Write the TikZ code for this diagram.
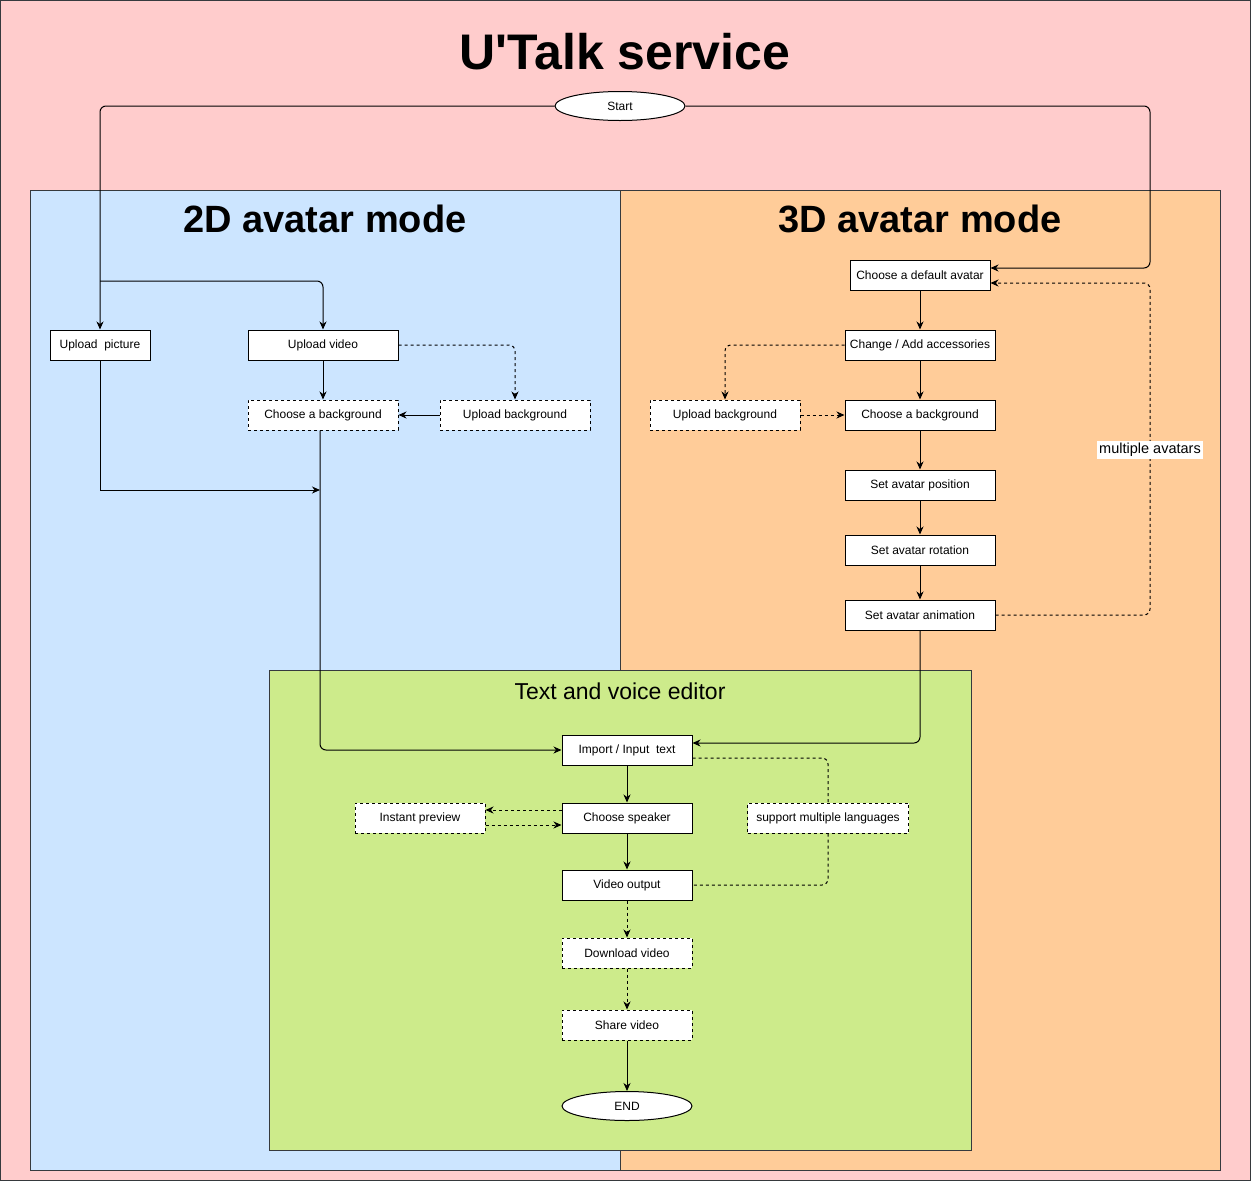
\documentclass[tikz,border=0pt]{standalone}
\usepackage{fontspec}
\setmainfont{Liberation Sans}
\usetikzlibrary{shapes.geometric,arrows.meta}
\definecolor{pinkbg}{HTML}{FFCCCC}
\definecolor{bluebg}{HTML}{CCE5FF}
\definecolor{orangebg}{HTML}{FFCC99}
\definecolor{greenbg}{HTML}{CDEB8B}
\definecolor{panelline}{HTML}{36393D}
\newcommand{\nodefont}{\fontsize{12}{14}\selectfont}
\tikzset{
  box/.style={draw=black, line width=1pt, fill=white, minimum width=150pt, minimum height=30pt, inner sep=0pt, font=\nodefont},
  dbox/.style={box, dash pattern=on 3pt off 3pt},
  oval/.style={ellipse, draw=black, line width=1pt, fill=white, minimum width=130pt, minimum height=29pt, inner sep=0pt, font=\nodefont},
  conn/.style={line width=1pt, ->, rounded corners=6pt},
  sconn/.style={line width=1pt, ->},
  dconn/.style={conn, dash pattern=on 3pt off 3pt},
  dline/.style={line width=1pt, rounded corners=6pt, dash pattern=on 3pt off 3pt},
  panel/.style={draw=panelline, line width=1pt},
  bigtitle/.style={font=\fontsize{50}{56}\selectfont\bfseries},
  modetitle/.style={font=\fontsize{38}{44}\selectfont\bfseries},
  >={Stealth[length=8pt,width=7pt,inset=2.5pt]}
}
\begin{document}
\begin{tikzpicture}[x=1pt,y=-1pt]
\useasboundingbox (0,0) rectangle (1251,1181);
% backgrounds
\fill[pinkbg, draw=panelline, line width=1pt] (0.5,0.5) rectangle (1250.5,1180.5);
\fill[bluebg] (30,190) rectangle (620,1170);
\fill[orangebg] (620,190) rectangle (1220,1170);
\draw[panel] (30,190) rectangle (620,1170);
\draw[panel] (620,190) rectangle (1220,1170);
\fill[greenbg] (269,670) rectangle (971,1150);
\draw[panel] (269,670) rectangle (971,1150);
% titles
\node[bigtitle] (title) at (625,52) {U\textquotesingle Talk service};
\node[modetitle] (t2d) at (325,219) {2D avatar mode};
\node[modetitle] (t3d) at (920,219) {3D avatar mode};
\node[font=\fontsize{23}{28}\selectfont] (tedit) at (620,691) {Text and voice editor};
% nodes
\node[oval] (start) at (620,106) {Start};
\node[box, minimum width=100pt] (upic) at (100,345) {Upload\ \ picture};
\node[box] (uvid) at (323,345) {Upload video};
\node[dbox] (cb2) at (323,415) {Choose a background};
\node[dbox] (ub2) at (515,415) {Upload background};
\node[box, minimum width=140pt] (cda) at (920,275) {Choose a default avatar};
\node[box] (chg) at (920,345) {Change / Add accessories};
\node[dbox] (ub3) at (725,415) {Upload background};
\node[box] (cb3) at (920,415) {Choose a background};
\node[box] (pos) at (920,485) {Set avatar position};
\node[box] (rot) at (920,550) {Set avatar rotation};
\node[box] (anim) at (920,615) {Set avatar animation};
\node[box, minimum width=130pt] (imp) at (627,750) {Import / Input\ \ text};
\node[dbox, minimum width=130pt] (ip) at (420,818) {Instant preview};
\node[box, minimum width=130pt] (cs) at (627,818) {Choose speaker};
\node[dbox, minimum width=161pt] (sml) at (828,818) {support multiple languages};
\node[box, minimum width=130pt] (vo) at (627,885) {Video output};
\node[dbox, minimum width=130pt] (dv) at (627,953) {Download video};
\node[dbox, minimum width=130pt] (sv) at (627,1025) {Share video};
\node[oval] (fin) at (627,1106) {END};
% helper coordinates
\coordinate (br) at (100,281);
\coordinate (c1) at (1150,180);
\coordinate (c2) at (1150,450);
\coordinate (m1) at (320,490);
% connectors: start
\draw[conn] (start.west) -| (upic.north);
\draw[conn] (br) -| (uvid.north);
\draw[conn] (start.east) -| (c1) |- ([yshift=7pt]cda.east);
% 2D
\draw[conn] (uvid.south) -- (cb2.north);
\draw[dconn] (uvid.east) -| (ub2.north);
\draw[conn] (ub2.west) -- (cb2.east);
\draw[sconn] (upic.south) |- (m1);
\draw[conn] ([xshift=-3pt]cb2.south) |- (imp.west);
% 3D
\draw[conn] (cda.south) -- (chg.north);
\draw[dconn] (chg.west) -| (ub3.north);
\draw[dconn] (ub3.east) -- (cb3.west);
\draw[conn] (chg.south) -- (cb3.north);
\draw[conn] (cb3.south) -- (pos.north);
\draw[conn] (pos.south) -- (rot.north);
\draw[conn] (rot.south) -- (anim.north);
\draw[dconn] (anim.east) -| (c2) |- ([yshift=-8pt]cda.east);
\node[fill=white, inner sep=2pt, font=\fontsize{14.5}{17}\selectfont] (lbl) at (c2) {multiple avatars};
\draw[conn] (anim.south) |- ([yshift=7pt]imp.east);
% editor
\draw[conn] (imp.south) -- (cs.north);
\draw[dconn] ([yshift=8pt]cs.west) -- ([yshift=8pt]ip.east);
\draw[dconn] ([yshift=-7pt]ip.east) -- ([yshift=-7pt]cs.west);
\draw[dline] ([yshift=-8pt]imp.east) -| (sml.north);
\draw[dline] (sml.south) |- (vo.east);
\draw[conn] (cs.south) -- (vo.north);
\draw[dconn] (vo.south) -- (dv.north);
\draw[dconn] (dv.south) -- (sv.north);
\draw[conn] (sv.south) -- (fin.north);
\end{tikzpicture}
\end{document}
